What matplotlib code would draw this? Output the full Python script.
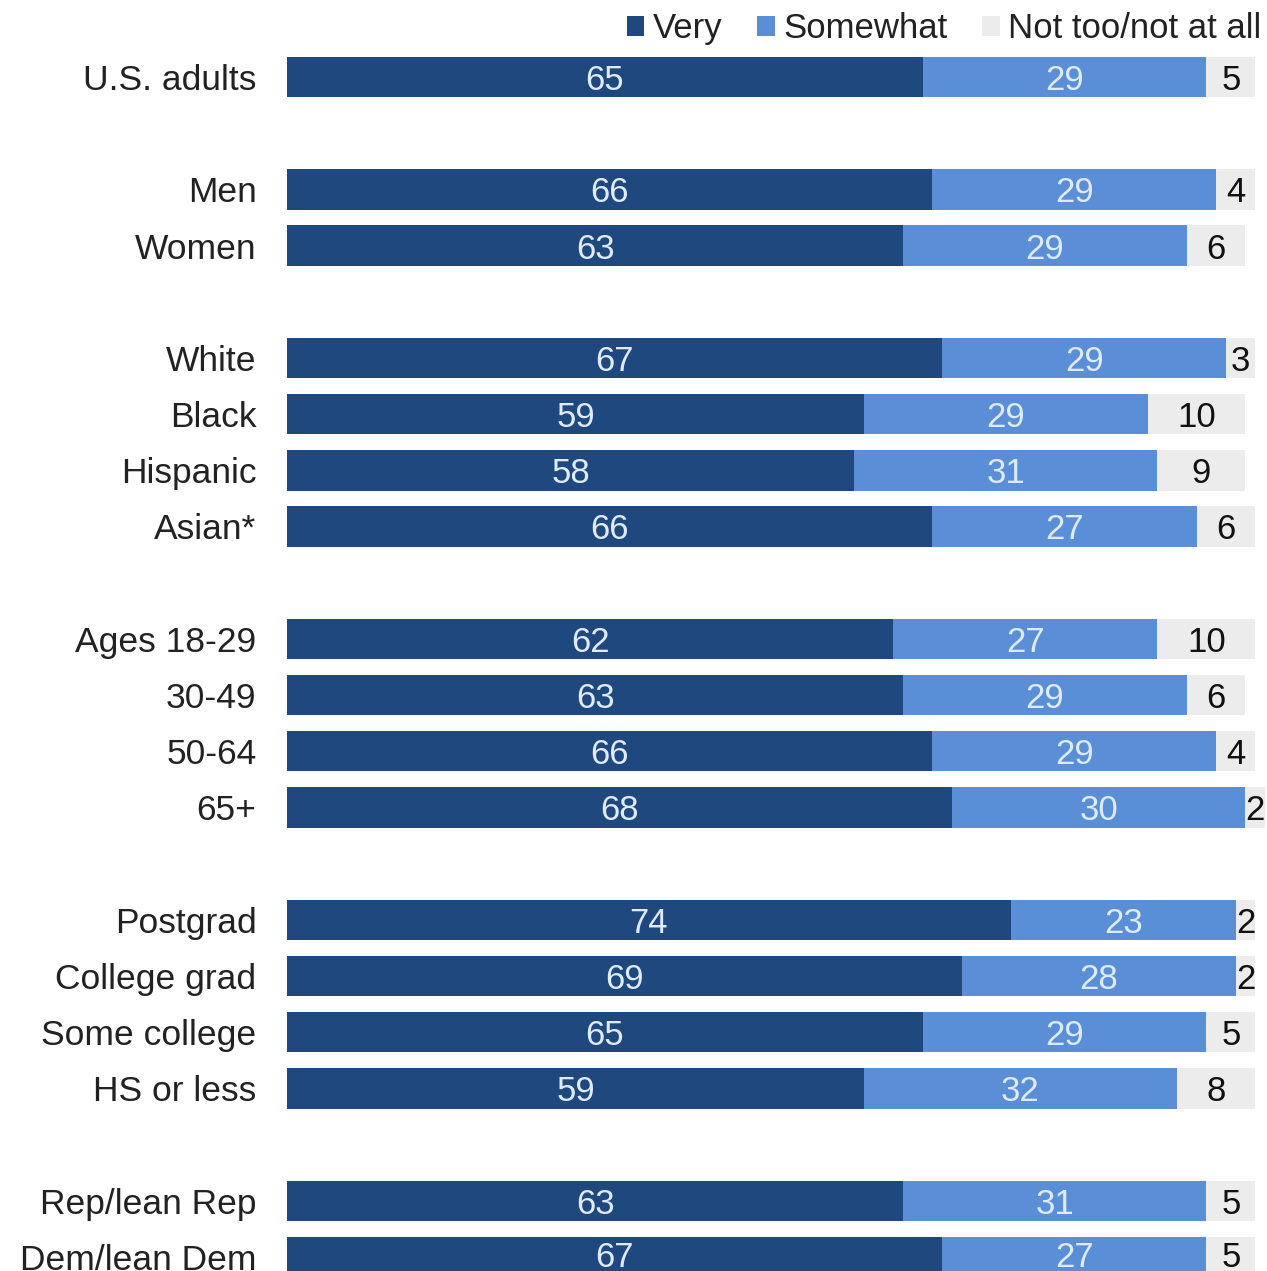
import matplotlib.pyplot as plt
import numpy as np

# groups separated by a blank row (None)
labels = ["U.S. adults", None,
          "Men", "Women", None,
          "White", "Black", "Hispanic", "Asian*", None,
          "Ages 18-29", "30-49", "50-64", "65+", None,
          "Postgrad", "College grad", "Some college", "HS or less", None,
          "Rep/lean Rep", "Dem/lean Dem"]
very = [65, None, 66, 63, None, 67, 59, 58, 66, None, 62, 63, 66, 68, None,
        74, 69, 65, 59, None, 63, 67]
somewhat = [29, None, 29, 29, None, 29, 29, 31, 27, None, 27, 29, 29, 30, None,
            23, 28, 29, 32, None, 31, 27]
not_too = [5, None, 4, 6, None, 3, 10, 9, 6, None, 10, 6, 4, 2, None,
           2, 2, 5, 8, None, 5, 5]

c_very = "#1f487e"
c_some = "#5a8ed6"
c_not = "#ececec"

plt.rcParams['font.family'] = ['Liberation Sans', 'DejaVu Sans']

rows = [i for i, l in enumerate(labels) if l is not None]
v = np.array([very[i] for i in rows])
s = np.array([somewhat[i] for i in rows])
n = np.array([not_too[i] for i in rows])
names = [labels[i] for i in rows]

fig = plt.figure(figsize=(12.67, 12.71), dpi=100)
ax = fig.add_axes([287 / 1267, 0, 978 / 1267, 1])

h = 0.72
b1 = ax.barh(rows, v, height=h, color=c_very, label="Very")
b2 = ax.barh(rows, s, left=v, height=h, color=c_some, label="Somewhat")
b3 = ax.barh(rows, n, left=v + s, height=h, color=c_not, label="Not too/not at all")

txt = []
txt += ax.bar_label(b1, label_type="center", color="#dfeafa", fontsize=25)
txt += ax.bar_label(b2, label_type="center", color="#dfeafa", fontsize=25)
txt += ax.bar_label(b3, label_type="center", color="#111111", fontsize=25)
for t in txt:
    t.set_va("center_baseline")

ax.set_xlim(0, 100)
ax.set_ylim(21.25, -1.37)
ax.set_yticks(rows)
ax.set_yticklabels(names, fontsize=25.5, color="#222222")
ax.tick_params(axis="y", length=0, pad=33)
for t in ax.get_yticklabels():
    t.set_va("center_baseline")
ax.tick_params(axis="y", pad=22)
ax.set_xticks([])
for sp in ax.spines.values():
    sp.set_visible(False)

ax.legend(handles=[b1, b2, b3], loc="upper right", bbox_to_anchor=(1.0, 0.993),
          ncol=3, frameon=False, fontsize=25, handlelength=0.5, handleheight=0.5,
          handletextpad=0.25, columnspacing=1.0, borderaxespad=0.0, borderpad=0.1,
          labelcolor="#222222")

fig.savefig("out.png", dpi=100)
